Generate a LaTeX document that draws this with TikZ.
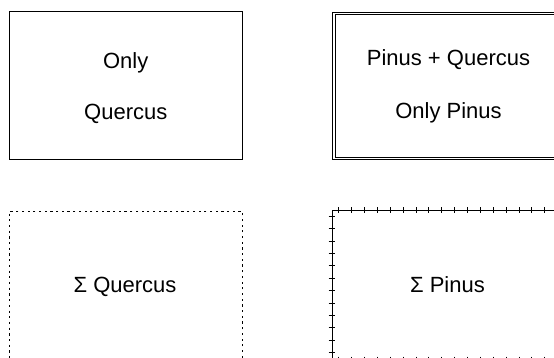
\documentclass[tikz,border=0pt]{standalone}
\usepackage{fontspec}
\setmainfont{Liberation Sans}
\begin{document}
\begin{tikzpicture}[x=1pt,y=-1pt,
  box/.style={rectangle, inner sep=0pt, line width=1pt, draw=black},
  plainbox/.style={box},
  doublebox/.style={box, line width=0.9pt, double=white, double distance=1.6pt},
  dottedbox/.style={box, line width=0.9pt, dash pattern=on 2.2pt off 3.5pt},
  tickbox/.style={box},
  tickmark/.style={line width=1pt, draw=black},
  boxtext/.style={font=\fontsize{22}{26}\selectfont, anchor=base, inner sep=0pt}]
\useasboundingbox (0,0) rectangle (554,358);

% the four frames
\node[plainbox, minimum width=232.5pt, minimum height=148pt] (oq) at (125.75,86) {};
\node[doublebox, minimum width=229pt, minimum height=145.2pt] (pq) at (448.5,86) {};
\node[dottedbox, minimum width=232.5pt, minimum height=148pt] (sq) at (125.75,285) {};
\node[tickbox, minimum width=232pt, minimum height=148.3pt] (sp) at (448,284.85) {};

% tick marks across the edges of the last frame
\foreach \k in {0,...,17} {
  \draw[tickmark] (sp.north west) ++(7.3+\k*12.875,-3) -- ++(0,6);
  \draw[tickmark] (sp.south west) ++(7.3+\k*12.875,-3) -- ++(0,6);
}
\foreach \k in {0,...,11} {
  \draw[tickmark] (sp.north west) ++(-3,6+\k*12.4) -- ++(6,0);
}

% labels
\node[boxtext] (t1) at (125.75,68.5) {Only};
\node[boxtext] (t2) at (125.75,120) {Quercus};
\node[boxtext] (t3) at (448.5,66) {Pinus + Quercus};
\node[boxtext] (t4) at (448.5,118.3) {Only Pinus};
\node[boxtext] (t5) at (125,292.7) {Σ Quercus};
\node[boxtext] (t6) at (447.5,292.7) {Σ Pinus};
\end{tikzpicture}
\end{document}
